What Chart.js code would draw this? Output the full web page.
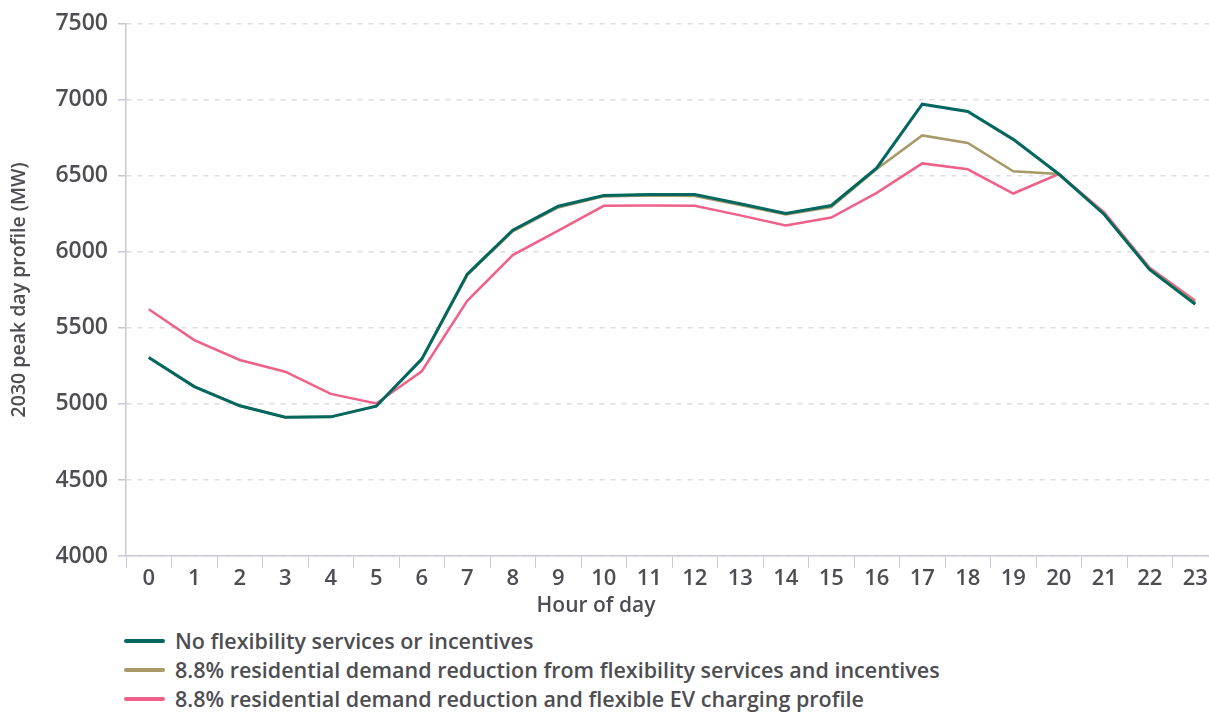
<!DOCTYPE html>
<html>
<head>
<meta charset="utf-8">
<script src="https://cdn.jsdelivr.net/npm/chart.js@4.4.1/dist/chart.umd.min.js"></script>
<style>
    html, body { margin: 0; padding: 0; background: #fff; overflow: hidden; }
    .wrap { position: relative; width: 1220px; height: 712px; }
    #peak-chart { display: block; }
    .x-title {
        position: absolute; left: 0; top: 592px; width: 1192px; text-align: center;
        font-family: "Open Sans", sans-serif; font-weight: 600; font-size: 21px;
        line-height: 24px; color: #4d4d52;
    }
    .legend {
        position: absolute; left: 124px; top: 626px;
        font-family: "Open Sans", sans-serif; font-weight: 600; font-size: 21.5px; color: #4d4d52;
    }
    .legend-item { display: flex; align-items: center; height: 29px; white-space: nowrap; }
    .legend-swatch { width: 41px; height: 4px; border-radius: 2px; margin-right: 10px; }
</style>
</head>
<body>
<div class="wrap">
    <canvas id="peak-chart" width="1220" height="600"></canvas>
    <div class="x-title">Hour of day</div>
    <div class="legend" id="legend"></div>
</div>
<script>
// Hour of day categories
const hours = ['0', '1', '2', '3', '4', '5', '6', '7', '8', '9', '10', '11',
    '12', '13', '14', '15', '16', '17', '18', '19', '20', '21', '22', '23'];

// 2030 peak day profile, MW
const noFlex = [5305, 5114, 4988, 4913, 4915, 4985, 5295, 5853, 6143, 6300, 6371, 6377,
    6377, 6316, 6253, 6305, 6552, 6971, 6923, 6740, 6512, 6246, 5883, 5656];
const demandReduction = [5305, 5114, 4988, 4913, 4915, 4985, 5293, 5848, 6135, 6292, 6365, 6370,
    6368, 6308, 6246, 6294, 6545, 6766, 6716, 6530, 6512, 6250, 5888, 5665];
const flexibleEv = [5623, 5420, 5289, 5212, 5066, 5003, 5215, 5678, 5979, 6140, 6303, 6305,
    6303, 6240, 6174, 6226, 6388, 6582, 6543, 6384, 6512, 6259, 5896, 5678];

const seriesNames = [
    'No flexibility services or incentives',
    '8.8% residential demand reduction from flexibility services and incentives',
    '8.8% residential demand reduction and flexible EV charging profile'
];
const seriesColors = ['#02675e', '#a89968', '#ef6189'];

// Y axis range
const yMin = 4000;
const yMax = 7500;
const yStep = 500;

const textColor = '#4d4d52';
const axisColor = '#c9c9d6';
const fontFamily = '"Open Sans", sans-serif';

const ctx = document.getElementById('peak-chart');

const chart = new Chart(ctx, {
    type: 'line',
    data: {
        labels: hours,
        datasets: [noFlex, demandReduction, flexibleEv].map((values, i) => ({
            label: seriesNames[i],
            data: values,
            borderColor: seriesColors[i],
            backgroundColor: seriesColors[i],
            borderWidth: i === 0 ? 3 : 2.5,
            pointRadius: 0,
            tension: 0,
            fill: false
        }))
    },
    options: {
        responsive: false,
        animation: false,
        layout: { padding: { top: 8, right: 2, bottom: 10, left: 0 } },
        plugins: {
            legend: { display: false },
            tooltip: { enabled: false }
        },
        scales: {
            x: {
                offset: true,
                grid: {
                    offset: true,
                    drawOnChartArea: false,
                    drawTicks: true,
                    tickLength: 12,
                    color: axisColor
                },
                border: { color: axisColor, width: 1.5 },
                ticks: {
                    color: textColor,
                    padding: 0,
                    maxRotation: 0,
                    font: { family: fontFamily, size: 22, weight: '600', lineHeight: 1 }
                }
            },
            y: {
                min: yMin,
                max: yMax,
                afterFit(scale) {
                    scale.width = 126;
                },
                grid: {
                    color: '#dcdce3',
                    tickColor: axisColor,
                    tickLength: 8,
                    lineWidth: 1.5
                },
                border: { color: axisColor, width: 1.5, dash: [5, 6] },
                ticks: {
                    stepSize: yStep,
                    color: textColor,
                    padding: 10,
                    callback: value => String(value),
                    font: { family: fontFamily, size: 23, weight: '600' }
                },
                title: {
                    display: true,
                    text: '2030 peak day profile (MW)',
                    color: textColor,
                    padding: { top: 8, bottom: 0 },
                    font: { family: fontFamily, size: 19.5, weight: '600' }
                }
            }
        }
    }
});

// Legend rows built from the datasets
const legend = document.getElementById('legend');
chart.data.datasets.forEach(ds => {
    const row = document.createElement('div');
    row.className = 'legend-item';
    const swatch = document.createElement('span');
    swatch.className = 'legend-swatch';
    swatch.style.background = ds.borderColor;
    const label = document.createElement('span');
    label.textContent = ds.label;
    row.appendChild(swatch);
    row.appendChild(label);
    legend.appendChild(row);
});
</script>
</body>
</html>
